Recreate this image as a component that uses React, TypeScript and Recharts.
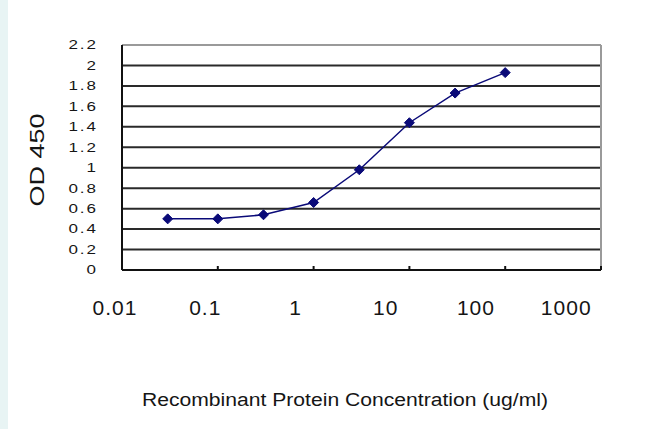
import {
  CartesianGrid,
  Line,
  LineChart,
  ReferenceLine,
  XAxis,
  YAxis,
} from "recharts";

const concentrations = [0.03, 0.1, 0.3, 1, 3, 10, 30, 100];
const odValues = [0.5, 0.5, 0.54, 0.66, 0.98, 1.44, 1.73, 1.93];
const xTicks = [0.01, 0.1, 1, 10, 100, 1000];
const yTicks = [0, 0.2, 0.4, 0.6, 0.8, 1, 1.2, 1.4, 1.6, 1.8, 2, 2.2];
const xTitle = "Recombinant Protein Concentration (ug/ml)";
const yTitle = "OD 450";

const data = concentrations.map((conc, i) => ({ conc, od: odValues[i] }));

const font = "'Liberation Sans', Arial, sans-serif";
const ink = "#151515";

function Diamond({ cx, cy }: { cx?: number; cy?: number }) {
  if (cx == null || cy == null) {
    return null;
  }
  const r = 5;
  return (
    <polygon
      points={`${cx},${cy - r} ${cx + r},${cy} ${cx},${cy + r} ${cx - r},${cy}`}
      fill="#0a0a78"
      stroke="#0a0a78"
    />
  );
}

// the scanned labels drift a little left of their ticks
function XTick({ x, y, payload }: any) {
  const lx = x - 7 - (x - 122) * 0.058;
  return (
    <text
      x={lx}
      y={y + 15}
      textAnchor="middle"
      fontFamily={font}
      fontSize={21}
      letterSpacing={1}
      fill={ink}
    >
      {String(payload.value)}
    </text>
  );
}

function YTick({ x, y, payload }: any) {
  return (
    <text
      transform={`translate(${x} ${y}) scale(1 0.72)`}
      y={6}
      textAnchor="end"
      fontFamily={font}
      fontSize={17}
      letterSpacing={2}
      fill={ink}
    >
      {String(payload.value)}
    </text>
  );
}

function XTitle() {
  return (
    <text
      x={345}
      y={406}
      textAnchor="middle"
      fontFamily={font}
      fontSize={18}
      textLength={406}
      lengthAdjust="spacingAndGlyphs"
      fill={ink}
    >
      {xTitle}
    </text>
  );
}

function YTitle() {
  return (
    <text
      x={44}
      y={160}
      transform="rotate(-90 44 160)"
      textAnchor="middle"
      fontFamily={font}
      fontSize={20}
      textLength={93}
      lengthAdjust="spacingAndGlyphs"
      fill={ink}
    >
      {yTitle}
    </text>
  );
}

export default function App() {
  return (
    <div
      style={{
        position: "absolute",
        left: 0,
        top: 0,
        width: 650,
        height: 429,
        background: "#fff",
      }}
    >
      <div
        style={{
          position: "absolute",
          left: 0,
          top: 0,
          width: 8,
          height: 429,
          background: "#e8f4f4",
        }}
      />
      <LineChart
        width={650}
        height={429}
        data={data}
        margin={{ top: 45, right: 49, bottom: 0, left: 0 }}
      >
        <CartesianGrid vertical={false} stroke="#2a2a2a" strokeWidth={2} />
        <XAxis
          dataKey="conc"
          type="number"
          scale="log"
          domain={[0.01, 1000]}
          ticks={xTicks}
          allowDataOverflow
          height={159}
          tickLine={{ stroke: "#111", strokeWidth: 2 }}
          tickSize={-4}
          tickMargin={34}
          axisLine={{ stroke: "#111", strokeWidth: 2 }}
          tick={<XTick />}
          label={<XTitle />}
        />
        <YAxis
          type="number"
          domain={[0, 2.2]}
          ticks={yTicks}
          interval={0}
          width={122}
          tickLine={false}
          tickSize={0}
          tickMargin={24}
          axisLine={{ stroke: "#111", strokeWidth: 2 }}
          tick={<YTick />}
          label={<YTitle />}
        />
        <ReferenceLine y={2.2} stroke="#9a9a9a" strokeWidth={2} />
        <ReferenceLine x={1000} stroke="#9a9a9a" strokeWidth={2} />
        <Line
          type="linear"
          dataKey="od"
          stroke="#0a0a78"
          strokeWidth={1.5}
          dot={<Diamond />}
          activeDot={false}
          isAnimationActive={false}
        />
      </LineChart>
    </div>
  );
}
